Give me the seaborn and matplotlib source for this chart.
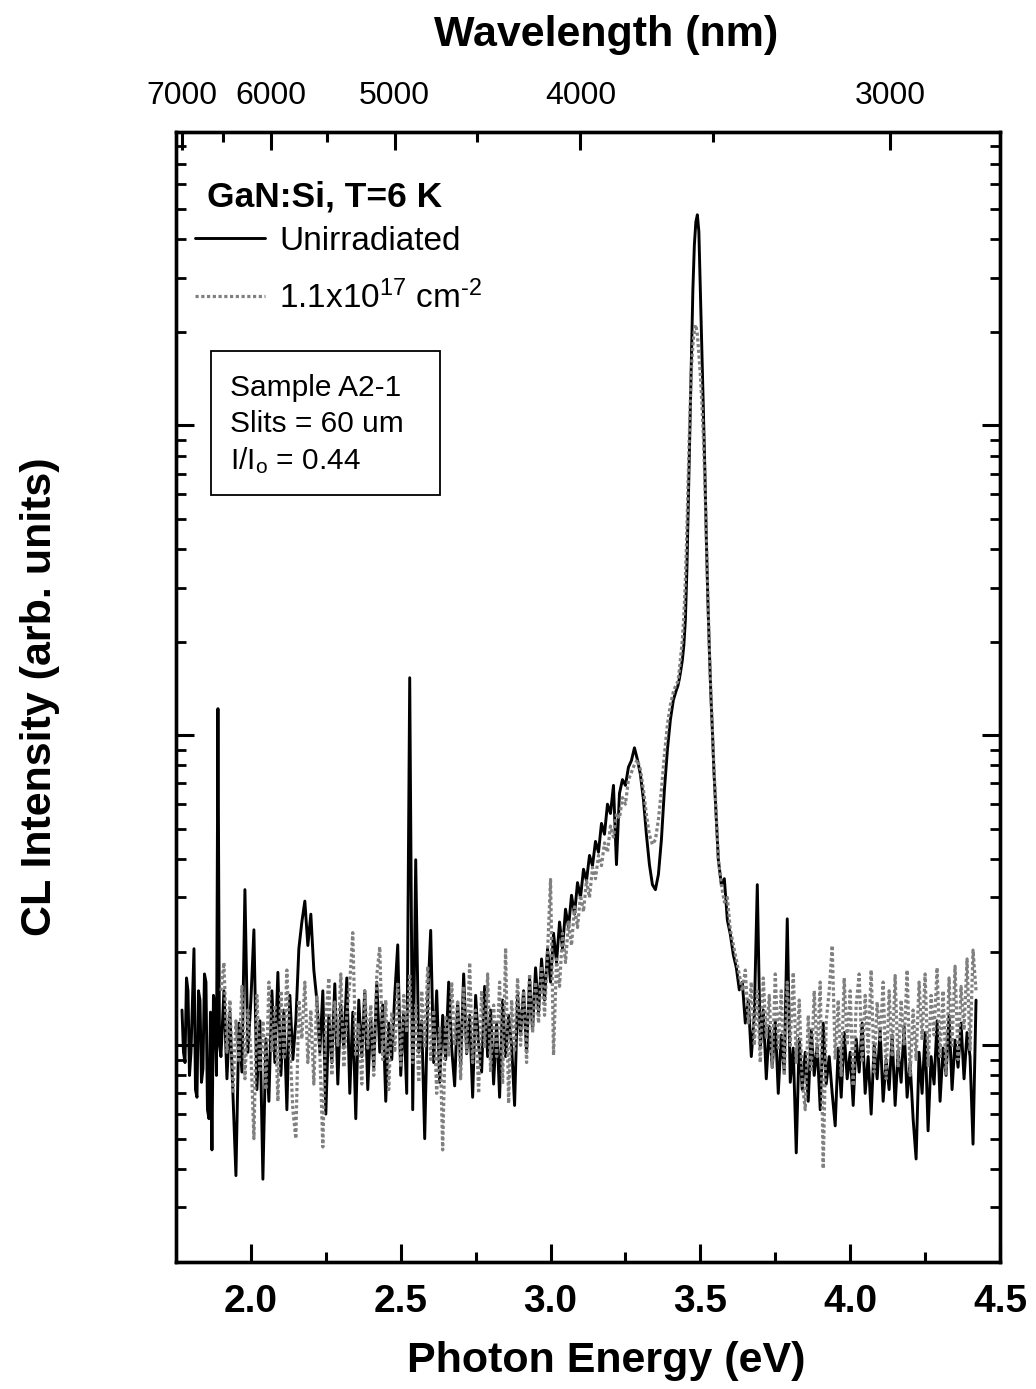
import numpy as np
import pandas as pd
import matplotlib
matplotlib.use('Agg')
import matplotlib.pyplot as plt
import matplotlib.patches as patches
from matplotlib.ticker import LogLocator, NullFormatter
import seaborn as sns

# photon energy grid (eV)
energy_red = [
    1.770, 1.775, 1.780, 1.785, 1.790, 1.795, 1.800, 1.805, 1.810, 1.815,
    1.820, 1.825, 1.830, 1.835, 1.840, 1.845, 1.850, 1.855, 1.860, 1.865,
    1.870, 1.875, 1.880, 1.885, 1.890, 1.895,
]
energy_low = [
    1.90, 1.91, 1.92, 1.93, 1.94, 1.95, 1.96,
    1.97, 1.98, 1.99, 2.00, 2.01, 2.02, 2.03, 2.04, 2.05, 2.06,
    2.07, 2.08, 2.09, 2.10, 2.11, 2.12, 2.13, 2.14, 2.15, 2.16,
    2.17, 2.18, 2.19, 2.20, 2.21, 2.22, 2.23, 2.24, 2.25, 2.26,
    2.27, 2.28, 2.29, 2.30, 2.31, 2.32, 2.33, 2.34, 2.35, 2.36,
    2.37, 2.38, 2.39, 2.40, 2.41, 2.42, 2.43, 2.44, 2.45, 2.46,
    2.47, 2.48, 2.49, 2.50, 2.51, 2.52, 2.53, 2.54, 2.55, 2.56,
    2.57, 2.58, 2.59, 2.60, 2.61, 2.62, 2.63, 2.64, 2.65, 2.66,
    2.67, 2.68, 2.69, 2.70, 2.71, 2.72, 2.73, 2.74, 2.75, 2.76,
    2.77, 2.78, 2.79, 2.80, 2.81, 2.82, 2.83, 2.84, 2.85, 2.86,
    2.87, 2.88, 2.89, 2.90, 2.91, 2.92, 2.93, 2.94, 2.95, 2.96,
    2.97, 2.98, 2.99, 3.00, 3.01, 3.02, 3.03, 3.04, 3.05, 3.06,
    3.07, 3.08, 3.09, 3.10, 3.11, 3.12, 3.13, 3.14, 3.15, 3.16,
    3.17, 3.18, 3.19, 3.20, 3.21, 3.22, 3.23, 3.24, 3.25, 3.26,
    3.27, 3.28, 3.29, 3.30, 3.31, 3.32, 3.33, 3.34, 3.35, 3.36,
    3.37, 3.38, 3.39, 3.40, 3.41, 3.42,
]
energy_peak = [
    3.425, 3.430, 3.435, 3.440, 3.445, 3.450, 3.455, 3.460, 3.465, 3.470,
    3.475, 3.480, 3.485, 3.490, 3.495, 3.500, 3.505, 3.510, 3.515, 3.520,
    3.525, 3.530, 3.535, 3.540, 3.545, 3.550, 3.555,
]
energy_high = [
    3.56, 3.57, 3.58, 3.59, 3.60, 3.61, 3.62, 3.63, 3.64, 3.65,
    3.66, 3.67, 3.68, 3.69, 3.70, 3.71, 3.72, 3.73, 3.74, 3.75,
    3.76, 3.77, 3.78, 3.79, 3.80, 3.81, 3.82, 3.83, 3.84, 3.85,
    3.86, 3.87, 3.88, 3.89, 3.90, 3.91, 3.92, 3.93, 3.94, 3.95,
    3.96, 3.97, 3.98, 3.99, 4.00, 4.01, 4.02, 4.03, 4.04, 4.05,
    4.06, 4.07, 4.08, 4.09, 4.10, 4.11, 4.12, 4.13, 4.14, 4.15,
    4.16, 4.17, 4.18, 4.19, 4.20, 4.21, 4.22, 4.23, 4.24, 4.25,
    4.26, 4.27, 4.28, 4.29, 4.30, 4.31, 4.32, 4.33, 4.34, 4.35,
    4.36, 4.37, 4.38, 4.39, 4.40, 4.41, 4.42,
]

# CL intensity, unirradiated sample (arb. units)
unirr_red = [
    130, 95, 88, 165, 150, 80, 95, 140, 205, 72,
    68, 150, 140, 76, 84, 170, 160, 62, 58, 128,
    46, 145, 135, 80, 1220, 100,
]
unirr_low = [
    92, 150, 78, 128, 70, 38, 118,
    82, 318, 95, 140, 236, 72, 120, 37, 105, 66,
    150, 88, 172, 80, 130, 62, 145, 90, 120, 205,
    250, 292, 210, 265, 175, 140, 95, 150, 60, 125,
    88, 158, 75, 135, 98, 165, 70, 128, 58, 140,
    92, 150, 72, 122, 85, 160, 95, 135, 66, 118,
    90, 145, 211, 80, 128, 70, 1535, 62, 397, 95,
    120, 50, 140, 235, 88, 150, 76, 125, 90, 160,
    98, 74, 138, 86, 170, 94, 125, 68, 145, 100,
    82, 155, 92, 130, 75, 118, 68, 140, 92, 125,
    100, 64, 145, 108, 150, 95, 165, 112, 178, 128,
    190, 140, 205, 160, 230, 185, 250, 205, 275, 240,
    305, 265, 335, 300, 370, 340, 410, 380, 455, 420,
    520, 480, 600, 560, 690, 383, 650, 720, 690, 790,
    830, 912, 835, 747, 621, 478, 383, 330, 318, 356,
    461, 668, 899, 1125, 1303, 1402,
]
unirr_peak = [
    1446, 1524, 1629, 1754, 1962, 2360, 3420, 5750, 9680, 16290,
    27400, 38300, 45400, 47850, 42200, 27400, 17540, 11250, 7200, 4280,
    2735, 1890, 1353, 1043, 775, 621, 497,
]
unirr_high = [
    397, 330, 345, 254, 228, 196, 178, 151, 160, 118,
    140, 92, 125, 330, 98, 130, 78, 115, 85, 120,
    70, 108, 82, 256, 76, 98, 45, 105, 72, 95,
    66, 112, 80, 100, 62, 118, 75, 92, 70, 55,
    98, 68, 110, 78, 95, 64, 105, 82, 118, 70,
    92, 60, 100, 78, 112, 66, 90, 72, 108, 64,
    96, 76, 115, 68, 88, 58, 43, 95, 70, 110,
    53, 92, 75, 120, 66, 98, 80, 125, 72, 104,
    85, 118, 78, 110, 92, 48, 140,
]

# CL intensity after 1.1x10^17 cm^-2 (recorded from 1.90 eV up)
irr_low = [
    150, 185, 95, 140, 70, 120, 88,
    155, 78, 130, 95, 50, 145, 82, 120, 72, 160,
    95, 135, 66, 150, 90, 175, 100, 62, 50, 140,
    105, 160, 88, 130, 75, 145, 95, 47, 120, 165,
    80, 138, 100, 170, 85, 125, 160, 231, 92, 118,
    75, 150, 98, 135, 80, 168, 208, 90, 140, 72,
    128, 95, 160, 85, 145, 110, 170, 88, 135, 76,
    150, 98, 180, 90, 130, 70, 115, 46, 125, 92,
    160, 100, 140, 78, 155, 95, 185, 88, 130, 70,
    150, 98, 170, 82, 135, 92, 160, 75, 206, 65,
    140, 95, 165, 100, 150, 88, 170, 110, 160, 118,
    180, 125, 200, 343, 93, 190, 155, 230, 185, 250,
    210, 280, 240, 305, 270, 340, 300, 375, 345, 410,
    380, 450, 420, 510, 470, 560, 540, 630, 600, 720,
    760, 805, 835, 775, 668, 555, 478, 445, 461, 535,
    668, 866, 1084, 1256, 1383, 1468,
]
irr_peak = [
    1490, 1629, 1820, 2036, 2450, 3175, 4600, 7200, 10830, 15130,
    18240, 20380, 21130, 19630, 17000, 14500, 11800, 9200, 6600, 4300,
    2800, 1900, 1380, 1060, 800, 640, 500,
]
irr_high = [
    397, 330, 290, 300, 236, 211, 189, 169, 150, 175,
    118, 160, 100, 150, 88, 165, 105, 145, 85, 170,
    98, 150, 80, 160, 100, 172, 88, 140, 76, 62,
    125, 82, 150, 92, 160, 40, 120, 150, 210, 90,
    140, 80, 165, 100, 150, 74, 135, 170, 88, 145,
    95, 175, 82, 138, 104, 160, 78, 150, 92, 168,
    85, 140, 100, 175, 80, 130, 90, 160, 104, 170,
    86, 145, 108, 178, 92, 150, 80, 165, 100, 180,
    90, 155, 112, 190, 96, 203, 150,
]

energy_ticks = [2.0, 2.5, 3.0, 3.5, 4.0, 4.5]
energy_tick_labels = ['2.0', '2.5', '3.0', '3.5', '4.0', '4.5']
wavelength_major = [7000, 6000, 5000, 4000, 3000]
wavelength_minor = [6500, 5500, 4500, 3500]
HC = 12398.4  # eV * Angstrom

energy = energy_red + energy_low + energy_peak + energy_high
unirradiated = unirr_red + unirr_low + unirr_peak + unirr_high
irradiated = irr_low + irr_peak + irr_high
irr_energy = energy[len(energy) - len(irradiated):]

df_unirr = pd.DataFrame({'energy': energy, 'intensity': unirradiated})
df_irr = pd.DataFrame({'energy': irr_energy, 'intensity': irradiated})

sns.set_theme(style='ticks')
plt.rcParams['font.family'] = ['Liberation Sans', 'DejaVu Sans']
plt.rcParams.update({
    'mathtext.fontset': 'custom',
    'mathtext.rm': 'Liberation Sans',
    'mathtext.it': 'Liberation Sans:italic',
    'mathtext.bf': 'Liberation Sans:bold',
    'axes.edgecolor': 'black',
    'axes.labelcolor': 'black',
    'xtick.color': 'black',
    'ytick.color': 'black',
    'text.color': 'black',
    'axes.linewidth': 2.4,
})

W, H = 1036, 1389
fig = plt.figure(figsize=(W / 100, H / 100), dpi=100)
ax = fig.add_axes([176 / W, 1 - 1262 / H, 824 / W, 1130 / H])

sns.lineplot(data=df_unirr, x='energy', y='intensity', ax=ax, color='black',
             linewidth=2.1, sort=False, estimator=None, label='Unirradiated')
sns.lineplot(data=df_irr, x='energy', y='intensity', ax=ax, color='#808080',
             linewidth=2.3, linestyle=(0, (1, 0.8)), sort=False, estimator=None,
             label='1.1x10$^{17}$ cm$^{\u20102}$')

ax.set_yscale('log')
ax.set_xlim(1.75, 4.5)
ax.set_ylim(20, 88500)

# bottom axis
ax.set_xticks(energy_ticks)
ax.set_xticklabels(energy_tick_labels, fontsize=28, fontweight='bold')
ax.set_xticks([2.25, 2.75, 3.25, 3.75, 4.25], minor=True)
ax.tick_params(axis='x', which='major', direction='in', length=13, width=2.2,
               pad=16, top=False)
ax.tick_params(axis='x', which='minor', direction='in', length=7, width=2.2, top=False)

# log y axis, no labels
ax.yaxis.set_major_locator(LogLocator(base=10))
ax.yaxis.set_minor_locator(LogLocator(base=10, subs=[2, 3, 4, 5, 6, 7, 8, 9]))
ax.yaxis.set_major_formatter(NullFormatter())
ax.yaxis.set_minor_formatter(NullFormatter())
ax.tick_params(axis='y', which='major', direction='in', length=13, width=2.2,
               left=True, right=True)
ax.tick_params(axis='y', which='minor', direction='in', length=7, width=2.0,
               left=True, right=True)

ax.set_xlabel('Photon Energy (eV)', fontsize=31, fontweight='bold')
ax.xaxis.set_label_coords(0.522, -0.07)
ax.set_ylabel('CL Intensity (arb. units)', fontsize=31, fontweight='bold')
ax.yaxis.set_label_coords(-0.141, 0.5)

# top wavelength axis
top = ax.twiny()
top.set_xlim(ax.get_xlim())
top.set_xticks([HC / w for w in wavelength_major])
top.set_xticklabels([str(w) for w in wavelength_major], fontsize=23)
top.set_xticks([HC / w for w in wavelength_minor], minor=True)
top.tick_params(axis='x', which='major', direction='in', length=13, width=2.2, pad=15)
top.tick_params(axis='x', which='minor', direction='in', length=7, width=2.2)
top.set_xlabel('Wavelength (nm)', fontsize=31, fontweight='bold')
top.xaxis.set_label_coords(0.522, 1.076)

for a in (ax, top):
    for sp in a.spines.values():
        sp.set_linewidth(2.4)
        sp.set_color('black')

# legend and annotations
ax.text((207 - 176) / 824, (1262 - 207) / 1130, 'GaN:Si, T=6 K', transform=ax.transAxes,
        fontsize=25.5, fontweight='bold', ha='left', va='baseline')
leg = ax.legend(loc='upper left', bbox_to_anchor=((195 - 176) / 824, (1262 - 226) / 1130),
                frameon=False, fontsize=24, handlelength=2.1, handletextpad=0.42,
                borderpad=0, borderaxespad=0, labelspacing=0.7)

box = patches.Rectangle(((210.7 - 176) / 824, (1262 - 495) / 1130), 229 / 824, 144 / 1130,
                        transform=ax.transAxes, facecolor='white', edgecolor='black',
                        linewidth=1.3, zorder=5)
ax.add_patch(box)
for text, base in [('Sample A2-1', 396), ('Slits = 60 um', 432),
                   ('I/I$_\\mathrm{o}$ = 0.44', 469)]:
    ax.text((230 - 176) / 824, (1262 - base) / 1130, text, transform=ax.transAxes,
            fontsize=21.5, ha='left', va='baseline', zorder=6)

fig.savefig('out.png', dpi=100)
